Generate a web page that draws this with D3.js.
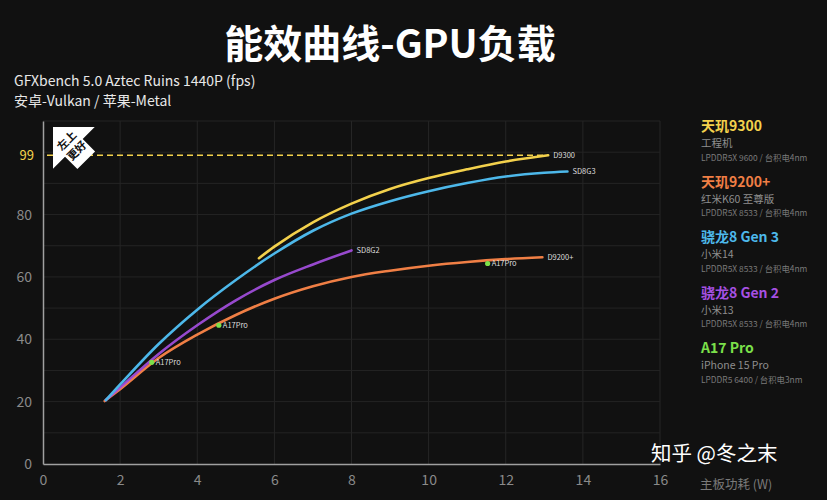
<!DOCTYPE html>
<html><head><meta charset="utf-8">
<script src="https://cdn.jsdelivr.net/npm/d3@7"></script>
<style>
html,body{margin:0;padding:0;background:#111111;}
svg{display:block;}
text{font-family:"Noto Sans CJK SC","Noto Sans",sans-serif;}
</style></head>
<body>
<script>
// ---- data ----
const xTicks = [0,2,4,6,8,10,12,14,16];
const yTicks = [0,20,40,60,80];
const highlightY = 99;

const d9300 = [[5.6,66],[6,69.7],[7,77.5],[8,83.5],[9,88.2],[10,91.7],[11,94.5],[12,97],[13.1,99]];
const sd8g3 = [[1.63,20.5],[2,25.5],[3,38.5],[4,49.5],[5,59],[6,67.5],[7,74.8],[8,80.3],[9,84.3],[10,87.5],[11,90.1],[12,92.2],[13,93.4],[13.6,93.8]];
const sd8g2 = [[1.63,20.5],[2,24.5],[3,35.3],[4,44.5],[5,52.5],[6,59],[7,64],[8,68.5]];
const d9200 = [[1.6,20.2],[2,24],[3,34],[4,41.5],[5,47.8],[6,53],[7,57],[8,60],[9,62],[10,63.6],[11,64.8],[12,65.7],[12.95,66.3]];
const a17pro = [[2.82,32.6],[4.56,44.5],[11.53,64.3]];

const seriesNames = ["D9300","SD8G3","SD8G2","D9200+"];
const seriesColors = ["#f3d14c","#4db8ea","#a650e2","#f07f45"];
const seriesData = [d9300, sd8g3, sd8g2, d9200];
const pointColor = "#7be04a";
const pointLabel = "A17Pro";

const legendTitles = ["天玑9300","天玑9200+","骁龙8 Gen 3","骁龙8 Gen 2","A17 Pro"];
const legendDevices = ["工程机","红米K60 至尊版","小米14","小米13","iPhone 15 Pro"];
const legendSpecs = ["LPDDR5X 9600 / 台积电4nm","LPDDR5X 8533 / 台积电4nm","LPDDR5X 8533 / 台积电4nm","LPDDR5X 8533 / 台积电4nm","LPDDR5 6400 / 台积电3nm"];
const legendColors = ["#f3d14c","#f07f45","#4db8ea","#a650e2","#7be04a"];

// ---- drawing ----
const W = 827, H = 500;
const svg = d3.select("body").append("svg").attr("width", W).attr("height", H);
svg.append("rect").attr("width", W).attr("height", H).attr("fill", "#111111");

const x = d3.scaleLinear().domain([0,16]).range([43,660]);
const y = d3.scaleLinear().domain([0,110]).range([464,121]);

// title
svg.append("text").attr("x", 390).attr("y", 58).attr("text-anchor","middle")
  .attr("fill","#ffffff").attr("font-size",39).attr("font-weight",700).text("能效曲线-GPU负载");
svg.append("text").attr("x", 14).attr("y", 85.5).attr("fill","#e8e8e8").attr("font-size",14)
  .attr("font-family","Roboto, 'Noto Sans CJK SC'").text("GFXbench 5.0 Aztec Ruins 1440P (fps)");
svg.append("text").attr("x", 14).attr("y", 105.5).attr("fill","#e8e8e8").attr("font-size",14)
  .text("安卓-Vulkan / 苹果-Metal");

// grid
const grid = svg.append("g");
grid.selectAll("line.v").data(d3.range(2,17,2)).enter().append("line")
  .attr("x1", d=>x(d)).attr("x2", d=>x(d)).attr("y1", y(110)).attr("y2", y(0))
  .attr("stroke","#262626").attr("stroke-width",1);
grid.selectAll("line.h").data(d3.range(10,111,10)).enter().append("line")
  .attr("x1", x(0)).attr("x2", x(16)).attr("y1", d=>y(d)).attr("y2", d=>y(d))
  .attr("stroke","#242424").attr("stroke-width",1);

// axes
const xAxis = d3.axisBottom(x).tickValues(xTicks).tickSize(0).tickPadding(11);
const gx = svg.append("g").attr("transform",`translate(0,${y(0)})`).call(xAxis);
gx.select(".domain").attr("stroke","#a0a0a0").attr("stroke-width",1.5);
gx.selectAll("text").attr("fill","#8a8a8a").attr("font-size",14).attr("font-family","Roboto");

const yAxis = d3.axisLeft(y).tickValues(yTicks).tickSize(0).tickPadding(11);
const gy = svg.append("g").attr("transform",`translate(${x(0)},0)`).call(yAxis);
gy.select(".domain").attr("stroke","#a0a0a0").attr("stroke-width",1.5);
gy.selectAll("text").attr("fill","#8a8a8a").attr("font-size",14).attr("font-family","Roboto");

svg.append("text").attr("x", x(0)-9).attr("y", y(highlightY)).attr("dy","0.35em")
  .attr("text-anchor","end").attr("fill","#f3d14c").attr("font-size",13).attr("font-family","Roboto")
  .text(highlightY);

// dashed 99 line
svg.append("line").attr("x1", x(0)+4).attr("x2", x(d9300[d9300.length-1][0]))
  .attr("y1", y(highlightY)).attr("y2", y(highlightY))
  .attr("stroke","#f3d14c").attr("stroke-width",1.6).attr("stroke-dasharray","6,4");

// curves
const line = d3.line().x(d=>x(d[0])).y(d=>y(d[1])).curve(d3.curveMonotoneX);
const drawOrder = [3,2,1,0];
drawOrder.forEach(i=>{
  svg.append("path").attr("d", line(seriesData[i])).attr("fill","none")
    .attr("stroke", seriesColors[i]).attr("stroke-width",2.6).attr("stroke-linecap","round")
    .attr("opacity", i===2 ? 0.9 : 1);
  const last = seriesData[i][seriesData[i].length-1];
  svg.append("text").attr("x", x(last[0])+5).attr("y", y(last[1])).attr("dy","0.35em")
    .attr("fill","#dddddd").attr("font-size",7.5).attr("font-family","Roboto").text(seriesNames[i]);
});

// A17 Pro points
svg.selectAll("circle.a17").data(a17pro).enter().append("circle")
  .attr("cx", d=>x(d[0])).attr("cy", d=>y(d[1])).attr("r",2.6).attr("fill",pointColor);
svg.selectAll("text.a17").data(a17pro).enter().append("text")
  .attr("x", d=>x(d[0])+4).attr("y", d=>y(d[1])).attr("dy","0.35em")
  .attr("fill","#dddddd").attr("font-size",7.5).attr("font-family","Roboto").text(pointLabel);

// badge "左上更好"
const tip = [53,127];
const s = Math.SQRT1_2;
const toPx = (u,v)=>[tip[0] + (u+v)*s, tip[1] + (u-v)*s];
const Hh = 29.5, Sw = 12.5, L = 47;
const poly = [[0,0],[Hh,Hh],[Hh,Sw],[L,Sw],[L,-Sw],[Hh,-Sw],[Hh,-Hh]].map(p=>toPx(p[0],p[1]));
svg.append("polygon").attr("points", poly.map(p=>p.join(",")).join(" ")).attr("fill","#ffffff");
const c1 = toPx(19.5,0), c2 = toPx(33.5,0);
svg.append("text").attr("transform",`translate(${c1[0]},${c1[1]}) rotate(-45)`).attr("text-anchor","middle")
  .attr("dy","0.35em").attr("fill","#111").attr("font-size",11).attr("font-weight",700).text("左上");
svg.append("text").attr("transform",`translate(${c2[0]},${c2[1]}) rotate(-45)`).attr("text-anchor","middle")
  .attr("dy","0.35em").attr("fill","#111").attr("font-size",11).attr("font-weight",700).text("更好");

// legend
const lg = svg.append("g").attr("transform","translate(701,0)");
legendTitles.forEach((t,i)=>{
  const y0 = 131 + i*55.5;
  lg.append("text").attr("x",0).attr("y",y0).attr("fill",legendColors[i]).attr("font-size",14)
    .attr("font-weight",700).text(t);
  lg.append("text").attr("x",0).attr("y",y0+16).attr("fill","#8e8e8e").attr("font-size",10.5).text(legendDevices[i]);
  lg.append("text").attr("x",0).attr("y",y0+29.5).attr("fill","#7a7a7a").attr("font-size",8.4).text(legendSpecs[i]);
});

// x axis title & watermark
svg.append("text").attr("x",700).attr("y",489).attr("fill","#7a7a7a").attr("font-size",12.5).text("主板功耗 (W)");
svg.append("text").attr("x",651).attr("y",461).attr("fill","#ffffff").attr("font-size",20.5).text("知乎 @冬之末");
</script>
</body></html>
